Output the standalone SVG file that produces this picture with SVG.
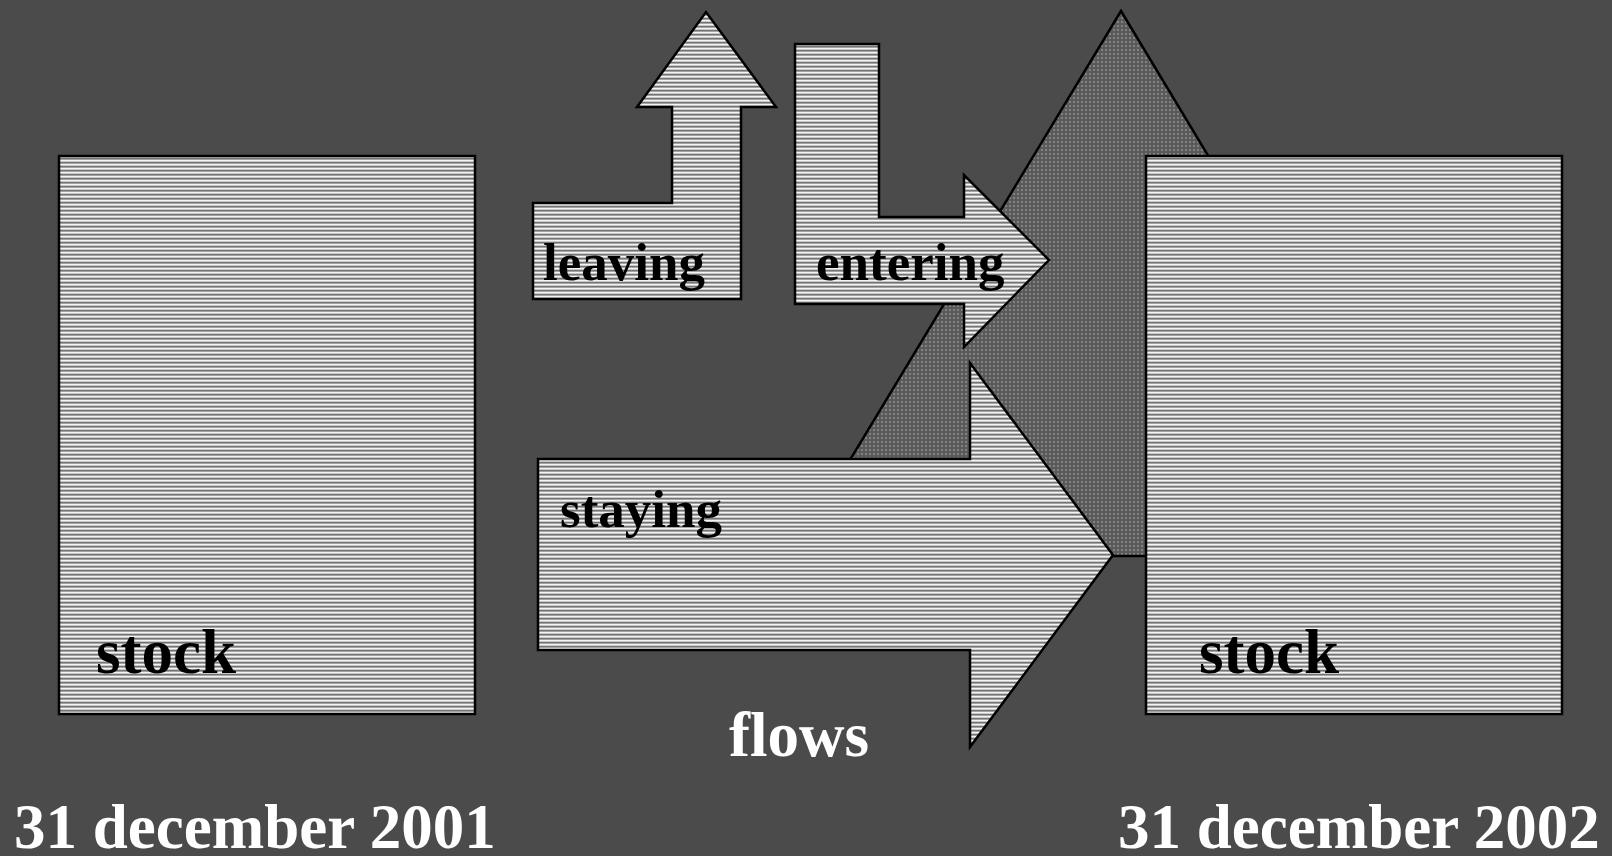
<svg xmlns="http://www.w3.org/2000/svg" width="1612" height="856" viewBox="0 0 1612 856">
<style>
.sh{fill:url(#stripes);stroke:#000;stroke-width:2.5;stroke-linejoin:miter}
.dot{fill:url(#dots);stroke:#000;stroke-width:2.5}
.lbl{font-family:"Liberation Serif","Times New Roman",serif;font-weight:bold;fill:#000}
.big{font-size:63px}
.mid{font-size:53px}
.wt{font-family:"Liberation Serif","Times New Roman",serif;font-weight:bold;fill:#fff;font-size:63px}
</style>
<defs>
<pattern id="stripes" x="0" y="0" width="8" height="4" patternUnits="userSpaceOnUse">
<rect width="8" height="4" fill="#c8c8c8"/>
<rect y="0" width="8" height="1" fill="#f4f4f4"/>
<rect y="2" width="8" height="1" fill="#747474"/>
<rect y="3" width="8" height="1" fill="#a4a4a4"/>
</pattern>
<pattern id="dots" x="0" y="0" width="4" height="4" patternUnits="userSpaceOnUse">
<rect width="4" height="4" fill="#5a5a5a"/>
<rect x="1" y="1" width="2" height="2" fill="#7a7a7a"/>
<rect x="1.5" y="1.5" width="1" height="1" fill="#989898"/>
</pattern>
</defs>
<rect width="1612" height="856" fill="#4b4b4b"/>
<g id="stock2001">
<rect class="sh" x="59" y="156" width="416" height="558"/>
<text class="lbl big" x="96" y="673">stock</text>
</g>
<g id="connectors">
<g id="entering-total">
<polygon class="dot" points="1121,11 1215,167 1215,556 792,556"/>
</g>
</g>
<g id="stock2002">
<rect class="sh" x="1146" y="156" width="416" height="558"/>
<text class="lbl big" x="1199" y="673">stock</text>
</g>
<g id="leaving">
<polygon class="sh" points="533,203 672,203 672,107 637,107 706,12 776,107 741,107 741,299 533,299"/>
<text class="lbl mid" x="543" y="280">leaving</text>
</g>
<g id="entering">
<polygon class="sh" points="795,44 879,44 879,217 964,217 964,175 1049,260 964,347 964,304 795,304"/>
<text class="lbl mid" x="816" y="280">entering</text>
</g>
<g id="staying">
<polygon class="sh" points="538,459 970,459 970,363 1113,555 970,747 970,650 538,650"/>
<text class="lbl mid" x="560" y="527">staying</text>
</g>
<g id="labels">
<text class="wt" x="729" y="756">flows</text>
<text class="wt" x="14" y="848">31 december 2001</text>
<text class="wt" x="1118" y="848">31 december 2002</text>
</g>
</svg>
